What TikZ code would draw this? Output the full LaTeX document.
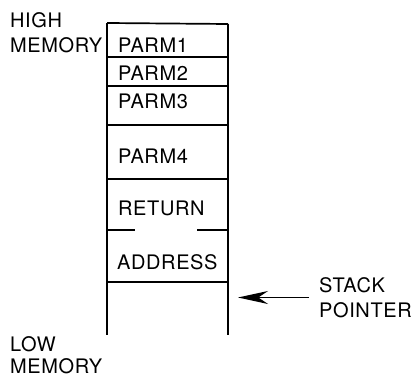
\documentclass[tikz,border=0pt]{standalone}
\usepackage{fontspec}
\setmainfont{TeX Gyre Heros}[LetterSpace=3]
\usetikzlibrary{arrows.meta}
\begin{document}
\begin{tikzpicture}[x=1pt,y=-1pt,
  lbl/.style={inner sep=0pt,anchor=base west,font=\fontsize{20}{26}\selectfont},
  wall/.style={line width=2pt},
  rule/.style={line width=1.7pt},
  ptr/.style={line width=1.8pt,-{Stealth[length=30pt,width=13pt]}}]
\useasboundingbox (0,0) rectangle (417,377);
% walls
\coordinate (tl) at (107,23);
\coordinate (tr) at (228,24);
\coordinate (bl) at (107,335);
\coordinate (br) at (228,335);
\draw[wall] (tl) -- (bl);
\draw[wall] (tr) -- (br);
\draw[rule] (tl) -- (tr);
% dividers
\draw[rule] (107,57) -- (228,57);
\draw[rule] (107,86) -- (228,86);
\draw[rule] (107,125) -- (228,125);
\draw[rule] (107,179) -- (228,179);
\draw[rule] (107,230) -- (135,230);
\draw[rule] (197,230) -- (228,230);
\draw[rule] (107,282) -- (228,282);
% labels
\node[lbl] (high) at (10,28) {HIGH};
\node[lbl] (hmem) at (10,53) {MEMORY};
\node[lbl] (p1) at (118,53) {PARM1};
\node[lbl] (p2) at (118,81) {PARM2};
\node[lbl] (p3) at (118,108) {PARM3};
\node[lbl] (p4) at (118,163) {PARM4};
\node[lbl] (ret) at (118,215) {RETURN};
\node[lbl] (addr) at (117,269) {ADDRESS};
\node[lbl] (low) at (10,351) {LOW};
\node[lbl] (lmem) at (10,373) {MEMORY};
\node[inner sep=0pt,anchor=west,align=left,font=\fontsize{20}{25}\selectfont] (sp) at (319,297.5) {STACK\\POINTER};
\coordinate (tip) at (238,297.5);
\draw[ptr] ([xshift=-10pt]sp.west) -- (tip);
\end{tikzpicture}
\end{document}
